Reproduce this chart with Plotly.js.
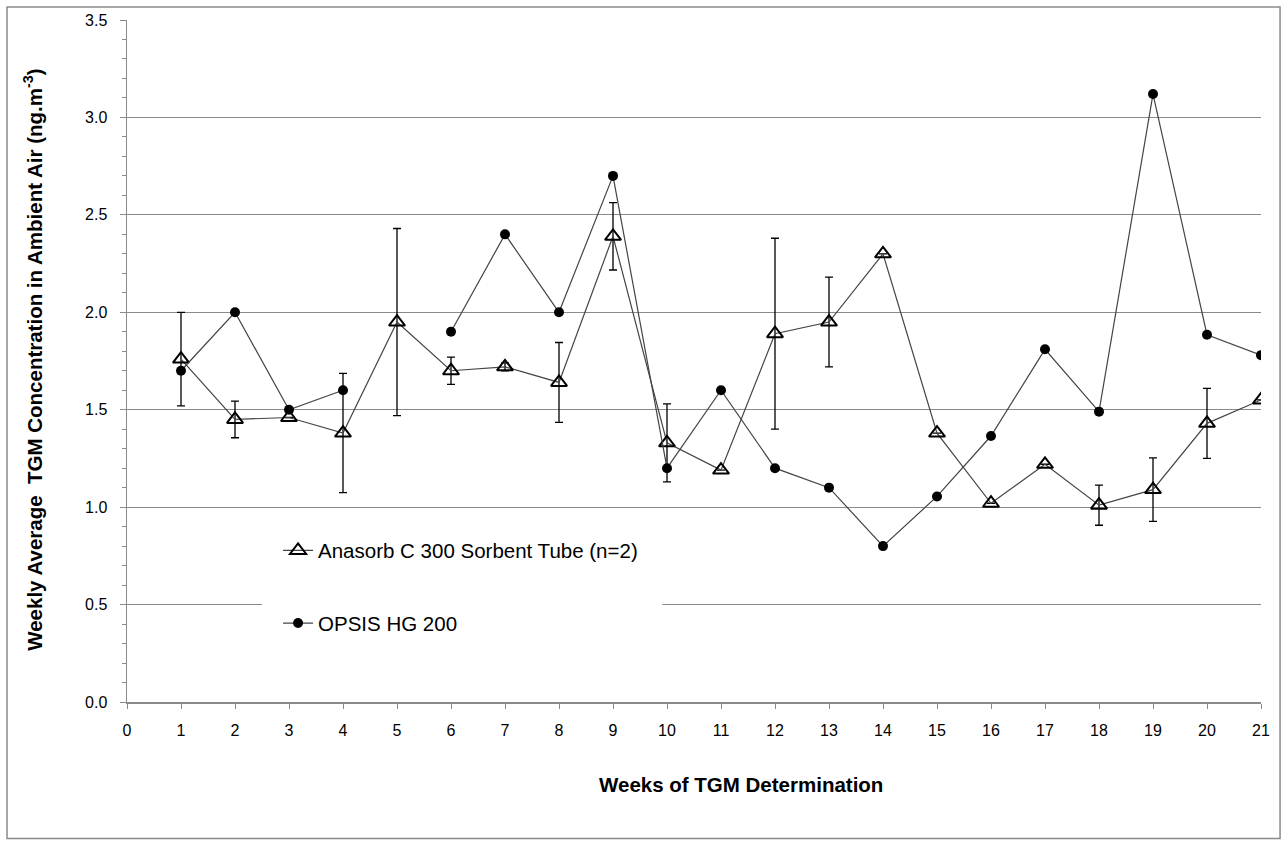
<!DOCTYPE html>
<html>
<head>
<meta charset="utf-8">
<script src="https://cdn.plot.ly/plotly-3.0.1.min.js"></script>
<style>html,body{margin:0;padding:0;background:#fff;}#chart{width:1284px;height:841px;}</style>
</head>
<body>
<div id="chart"></div>
<script>
const weeks = [1,2,3,4,5,6,7,8,9,10,11,12,13,14,15,16,17,18,19,20,21];
const anasorb = [1.76,1.45,1.46,1.38,1.95,1.70,1.72,1.64,2.39,1.33,1.19,1.89,1.95,2.30,1.38,1.02,1.22,1.01,1.09,1.43,1.55];
const anasorbErr = [0.24,0.094,0,0.306,0.48,0.07,0.02,0.205,0.173,0.20,0,0.49,0.23,0,0,0,0,0.103,0.163,0.18,0];
const opsis = [1.70,2.00,1.50,1.60,null,1.90,2.40,2.00,2.70,1.20,1.60,1.20,1.10,0.80,1.055,1.365,1.81,1.49,3.12,1.885,1.78];
const xTickVals = [0,1,2,3,4,5,6,7,8,9,10,11,12,13,14,15,16,17,18,19,20,21];
const yTickVals = [0,0.5,1.0,1.5,2.0,2.5,3.0,3.5];

const FONT = 'Arial, "Liberation Sans", sans-serif';

const traces = [
  {
    x: weeks, y: anasorb, type: 'scatter', mode: 'lines+markers',
    name: 'Anasorb C 300 Sorbent Tube (n=2)', legendgroup: 'a',
    line: {color: '#444444', width: 1.2},
    marker: {symbol: 'triangle-up-open', size: 14, color: '#000', line: {color: '#000', width: 2}},
    error_y: {type: 'data', array: anasorbErr, visible: true, color: '#000', thickness: 1.3, width: 4}
  },
  {
    x: weeks, y: opsis, type: 'scatter', mode: 'lines+markers',
    name: 'OPSIS HG 200', legendgroup: 'b', connectgaps: false,
    line: {color: '#444444', width: 1.2},
    marker: {symbol: 'circle', size: 10, color: '#000'}
  }
];

const layout = {
  width: 1284, height: 841,
  margin: {l: 127, r: 23, t: 20, b: 138.5, pad: 0},
  paper_bgcolor: '#fff', plot_bgcolor: '#fff',
  font: {family: FONT, size: 16, color: '#000'},
  showlegend: true,
  legend: {
    x: 0.1332, y: 0.2513, xanchor: 'left', yanchor: 'top',
    bgcolor: 'rgba(255,255,255,0)', borderwidth: 0,
    font: {family: FONT, size: 20.5, color: '#000'},
    tracegroupgap: 43, traceorder: 'grouped'
  },
  xaxis: {
    range: [0, 21], tickmode: 'array', tickvals: xTickVals,
    showgrid: false, zeroline: false,
    showline: true, linecolor: '#8a8a8a', linewidth: 1.5,
    ticks: 'outside', ticklen: 5, tickcolor: '#8a8a8a', tickwidth: 1,
    ticklabelstandoff: 8,
    tickfont: {family: FONT, size: 16, color: '#000'}
  },
  yaxis: {
    range: [0, 3.5], tickmode: 'array', tickvals: yTickVals, tickformat: '.1f',
    showgrid: true, gridcolor: '#8a8a8a', gridwidth: 1, zeroline: false,
    showline: true, linecolor: '#8a8a8a', linewidth: 1.5,
    ticks: 'outside', ticklen: 6, tickcolor: '#8a8a8a', tickwidth: 1,
    ticklabelstandoff: 9,
    minor: {dtick: 0.1, ticks: 'outside', ticklen: 4, tickcolor: '#8a8a8a', showgrid: false},
    tickfont: {family: FONT, size: 16, color: '#000'}
  },
  shapes: [
    {type: 'rect', xref: 'paper', yref: 'paper', x0: 0.119, x1: 0.472, y0: 0.07, y1: 0.26,
     fillcolor: '#fff', line: {width: 0}, layer: 'above'},
    {type: 'rect', xref: 'paper', yref: 'paper', x0: -0.1058, x1: 1.0168, y0: -0.2, y1: 1.019,
     fillcolor: 'rgba(0,0,0,0)', line: {color: '#8a8a8a', width: 1.5}, layer: 'above'}
  ],
  annotations: [
    {text: '<b>Weeks of TGM Determination</b>', xref: 'paper', yref: 'paper', x: 0.5414, y: -0.1209,
     xanchor: 'center', yanchor: 'middle', showarrow: false, font: {family: FONT, size: 20.5, color: '#000'}},
    {text: '<b>Weekly Average  TGM Concentration in Ambient Air (ng.m<sup>-3</sup>)</b>', xref: 'paper', yref: 'paper',
     x: -0.0829, y: 0.5018, xanchor: 'center', yanchor: 'middle', textangle: -90, showarrow: false,
     font: {family: FONT, size: 20.5, color: '#000'}}
  ]
};

Plotly.newPlot('chart', traces, layout, {displayModeBar: false, staticPlot: true});
</script>
</body>
</html>
